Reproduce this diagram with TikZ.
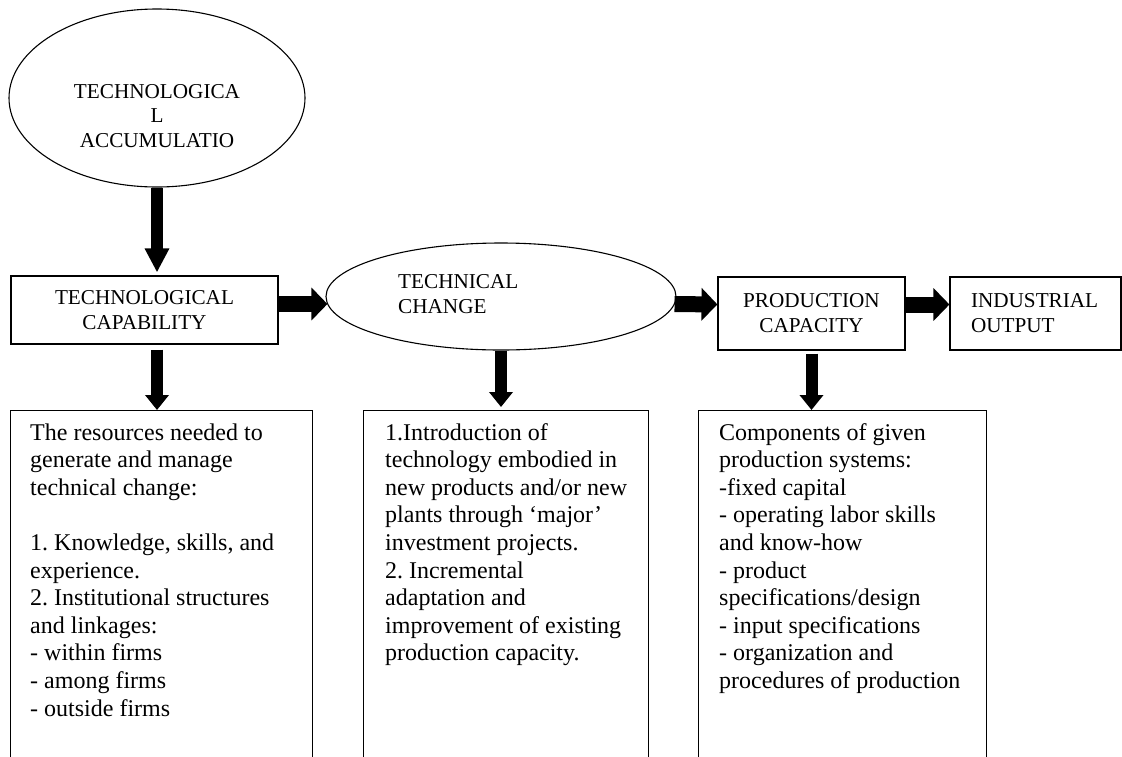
\documentclass[tikz,border=0pt]{standalone}
\usepackage{fontspec}
\setmainfont{Liberation Serif}
\frenchspacing
\usetikzlibrary{shapes.geometric,arrows.meta,calc}
\begin{document}
\begin{tikzpicture}[x=1pt,y=-1pt,
  hfont/.style={font=\fontsize{21.2}{25}\selectfont},
  bfont/.style={font=\fontsize{24}{27.6}\selectfont},
  ell/.style={draw, ellipse, line width=1.1pt, inner sep=0pt},
  hbox/.style={draw, rectangle, line width=1.1pt, inner sep=0pt, hfont, align=center},
  tbox/.style={draw, rectangle, line width=1.1pt, inner sep=0pt, minimum height=380pt, anchor=north west},
  btext/.style={bfont, align=left, inner sep=0pt, anchor=base west},
  varrow/.style={line width=12pt, -{Triangle[width=23pt,length=15pt]}},
  varrowlong/.style={line width=12pt, -{Triangle[width=23pt,length=24pt]}},
  harrow/.style={line width=16pt, -{Triangle[width=32pt,length=16pt]}},
]
\useasboundingbox (0,0) rectangle (1122,756);
\clip (0,0) rectangle (1122,756);

% top ellipse
\node[ell, minimum width=296pt, minimum height=178pt] (acc) at (157,98) {};
\node[font=\fontsize{21.2}{24.5}\selectfont, align=center, inner sep=0pt, anchor=base] (acct) at (157,147) {TECHNOLOGICA\\L\\ACCUMULATIO};

% middle row
\node[hbox, minimum width=267pt, minimum height=68pt] (tcap) at (144.5,310) {TECHNOLOGICAL\\CAPABILITY};
\node[ell, minimum width=350pt, minimum height=107pt] (tch) at (501,296.5) {};
\node[hfont, align=left, inner sep=0pt, anchor=base west] (tcht) at (398,313) {TECHNICAL\\CHANGE};
\node[hbox, minimum width=187pt, minimum height=73pt] (prod) at (811.5,313.5) {PRODUCTION\\CAPACITY};
\node[hbox, align=left, text width=129pt, inner xsep=21pt, minimum height=73pt] (out) at (1035.5,313.5) {INDUSTRIAL\\OUTPUT};

% bottom boxes
\node[tbox, minimum width=302pt] (b1) at (10,410) {};
\node[tbox, minimum width=285pt] (b2) at (363,410) {};
\node[tbox, minimum width=288pt] (b3) at (698,410) {};

\node[btext] (b1t) at (30,716) {The resources needed to\\generate and manage\\technical change:\\[27.6pt]1. Knowledge, skills, and\\experience.\\2. Institutional structures\\and linkages:\\- within firms\\- among firms\\- outside firms};
\node[btext] (b2t) at (385,660.8) {1.Introduction of\\technology embodied in\\new products and/or new\\plants through ‘major’\\investment projects.\\2. Incremental\\adaptation and\\improvement of existing\\production capacity.};
\node[btext] (b3t) at (719,688.4) {Components of given\\production systems:\\-fixed capital\\- operating labor skills\\and know-how\\- product\\specifications/design\\- input specifications\\- organization and\\procedures of production};

% arrows
\draw[varrowlong, shorten >=3pt] (acc.south) -- (acc.south |- tcap.north);
\draw[varrow, shorten <=5pt] (acc.south |- tcap.south) -- (acc.south |- b1.north);
\draw[varrow, shorten >=3pt] (tch.south) -- (tch.south |- b2.north);
\draw[varrow, shorten <=3pt] (prod.south) -- (prod.south |- b3.north);

\draw[harrow] ($(tcap.east)+(0,-6)$) -- ($(tcap.east -| tch.west)+(2,-6)$);
\draw[harrow] ($(tch.east)+(-2,7.5)$) -- ($(prod.west)+(0,-9)$);
\draw[harrow] ($(prod.east)+(0,-9)$) -- ($(out.west)+(0,-9)$);
\end{tikzpicture}
\end{document}
